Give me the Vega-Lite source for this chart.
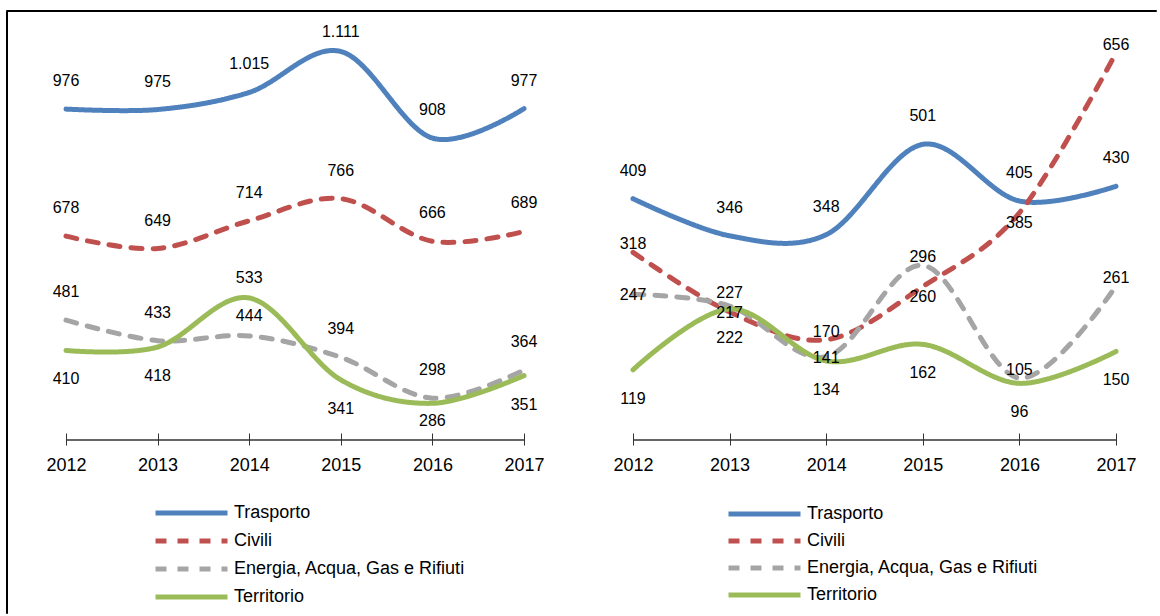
{
  "$schema": "https://vega.github.io/schema/vega-lite/v6.json",
  "background": "white",
  "padding": {"left": 5, "top": 9, "right": 0, "bottom": 0},
  "autosize": {"type": "pad"},
  "config": {
    "view": {"stroke": null},
    "font": "Liberation Sans, Arial, sans-serif",
    "locale": {"number": {"decimal": ",", "thousands": ".", "grouping": [3], "currency": ["€", ""]}},
    "axisX": {
      "domain": false, "grid": false, "title": null,
      "ticks": true, "tickSize": 12, "tickColor": "#333333", "tickWidth": 1,
      "offset": -7, "labelPadding": 11, "labelFontSize": 18, "labelColor": "black",
      "labelFont": "Liberation Sans, Arial, sans-serif"
    },
    "text": {"font": "Liberation Sans, Arial, sans-serif", "fontSize": 16, "color": "black"}
  },
  "datasets": {
    "sinistra": [
      {"anno": 2012, "serie": "Trasporto", "valore": 976},
      {"anno": 2013, "serie": "Trasporto", "valore": 975},
      {"anno": 2014, "serie": "Trasporto", "valore": 1015},
      {"anno": 2015, "serie": "Trasporto", "valore": 1111},
      {"anno": 2016, "serie": "Trasporto", "valore": 908},
      {"anno": 2017, "serie": "Trasporto", "valore": 977},
      {"anno": 2012, "serie": "Civili", "valore": 678},
      {"anno": 2013, "serie": "Civili", "valore": 649},
      {"anno": 2014, "serie": "Civili", "valore": 714},
      {"anno": 2015, "serie": "Civili", "valore": 766},
      {"anno": 2016, "serie": "Civili", "valore": 666},
      {"anno": 2017, "serie": "Civili", "valore": 689},
      {"anno": 2012, "serie": "Energia, Acqua, Gas e Rifiuti", "valore": 481},
      {"anno": 2013, "serie": "Energia, Acqua, Gas e Rifiuti", "valore": 433},
      {"anno": 2014, "serie": "Energia, Acqua, Gas e Rifiuti", "valore": 444},
      {"anno": 2015, "serie": "Energia, Acqua, Gas e Rifiuti", "valore": 394},
      {"anno": 2016, "serie": "Energia, Acqua, Gas e Rifiuti", "valore": 298},
      {"anno": 2017, "serie": "Energia, Acqua, Gas e Rifiuti", "valore": 364},
      {"anno": 2012, "serie": "Territorio", "valore": 410},
      {"anno": 2013, "serie": "Territorio", "valore": 418},
      {"anno": 2014, "serie": "Territorio", "valore": 533},
      {"anno": 2015, "serie": "Territorio", "valore": 341},
      {"anno": 2016, "serie": "Territorio", "valore": 286},
      {"anno": 2017, "serie": "Territorio", "valore": 351}
    ],
    "destra": [
      {"anno": 2012, "serie": "Trasporto", "valore": 409},
      {"anno": 2013, "serie": "Trasporto", "valore": 346},
      {"anno": 2014, "serie": "Trasporto", "valore": 348},
      {"anno": 2015, "serie": "Trasporto", "valore": 501},
      {"anno": 2016, "serie": "Trasporto", "valore": 405},
      {"anno": 2017, "serie": "Trasporto", "valore": 430},
      {"anno": 2012, "serie": "Civili", "valore": 318},
      {"anno": 2013, "serie": "Civili", "valore": 217},
      {"anno": 2014, "serie": "Civili", "valore": 170},
      {"anno": 2015, "serie": "Civili", "valore": 260},
      {"anno": 2016, "serie": "Civili", "valore": 385},
      {"anno": 2017, "serie": "Civili", "valore": 656},
      {"anno": 2012, "serie": "Energia, Acqua, Gas e Rifiuti", "valore": 247},
      {"anno": 2013, "serie": "Energia, Acqua, Gas e Rifiuti", "valore": 227},
      {"anno": 2014, "serie": "Energia, Acqua, Gas e Rifiuti", "valore": 141},
      {"anno": 2015, "serie": "Energia, Acqua, Gas e Rifiuti", "valore": 296},
      {"anno": 2016, "serie": "Energia, Acqua, Gas e Rifiuti", "valore": 105},
      {"anno": 2017, "serie": "Energia, Acqua, Gas e Rifiuti", "valore": 261},
      {"anno": 2012, "serie": "Territorio", "valore": 119},
      {"anno": 2013, "serie": "Territorio", "valore": 222},
      {"anno": 2014, "serie": "Territorio", "valore": 134},
      {"anno": 2015, "serie": "Territorio", "valore": 162},
      {"anno": 2016, "serie": "Territorio", "valore": 96},
      {"anno": 2017, "serie": "Territorio", "valore": 150}
    ]
  },
  "bounds": "flush",
  "spacing": 0,
  "vconcat": [
    {
      "width": 1150, "height": 1,
      "view": {"stroke": "black", "strokeWidth": 1},
      "data": {"values": []},
      "mark": "point",
      "encoding": {}
    },
    {
      "bounds": "flush",
      "spacing": 0,
      "resolve": {
        "scale": {"color": "independent", "strokeDash": "independent"},
        "legend": {"color": "independent", "strokeDash": "independent"}
      },
      "hconcat": [
        {
          "width": 1, "height": 602,
          "view": {"stroke": "black", "strokeWidth": 1},
          "data": {"values": []},
          "mark": "point",
          "encoding": {}
        },
        {
          "width": 579, "height": 429,
          "data": {"name": "sinistra"},
          "layer": [
            {
              "mark": {"type": "rule", "color": "#333333", "strokeWidth": 1.3},
              "encoding": {
                "x": {"aggregate": "min", "field": "anno", "type": "quantitative", "title": null,
                      "scale": {"domain": [2011.3559, 2017.6769], "nice": false, "zero": false}},
                "x2": {"aggregate": "max", "field": "anno"},
                "y": {"datum": 200, "type": "quantitative", "scale": {"domain": [200, 1206], "nice": false, "zero": false}, "axis": null}
              }
            },
            {
              "mark": {"type": "line", "strokeWidth": 5, "interpolate": "cardinal", "strokeCap": "round"},
              "encoding": {
                "x": {"field": "anno", "type": "quantitative", "title": null,
                      "scale": {"domain": [2011.3559, 2017.6769], "nice": false, "zero": false},
                      "axis": {"values": [2012, 2013, 2014, 2015, 2016, 2017], "format": "d"}},
                "y": {"field": "valore", "type": "quantitative", "scale": {"domain": [200, 1206], "nice": false, "zero": false}, "axis": null},
                "color": {"field": "serie", "type": "nominal",
                  "scale": {"domain": ["Trasporto", "Civili", "Energia, Acqua, Gas e Rifiuti", "Territorio"], "range": ["#4F81BD", "#C0504D", "#A5A5A5", "#9BBB59"]},
                  "legend": {"title": null, "orient": "none", "legendX": 146, "legendY": 492, "direction": "vertical", "symbolType": "stroke", "symbolSize": 5184, "symbolStrokeWidth": 5, "clipHeight": 20, "rowPadding": 8, "labelOffset": 4, "labelFontSize": 18, "labelColor": "black", "labelLimit": 400, "padding": 0, "labelFont": "Liberation Sans, Arial, sans-serif"}},
                "strokeDash": {"field": "serie", "type": "nominal",
                  "scale": {"domain": ["Trasporto", "Civili", "Energia, Acqua, Gas e Rifiuti", "Territorio"], "range": [[1, 0], [11, 11], [11, 11], [1, 0]]},
                  "legend": {"title": null, "orient": "none", "legendX": 146, "legendY": 492, "direction": "vertical", "symbolType": "stroke", "symbolSize": 5184, "symbolStrokeWidth": 5, "clipHeight": 20, "rowPadding": 8, "labelOffset": 4, "labelFontSize": 18, "labelColor": "black", "labelLimit": 400, "padding": 0, "labelFont": "Liberation Sans, Arial, sans-serif"}}
              }
            },
            {
              "transform": [{"filter": "(datum.serie != 'Territorio' && !(datum.anno == 2014 && datum.serie == 'Energia, Acqua, Gas e Rifiuti') && !(datum.anno == 2015 && datum.serie == 'Trasporto'))"}],
              "mark": {"type": "text", "dy": -28, "align": "center", "baseline": "middle"},
              "encoding": {
                "x": {"field": "anno", "type": "quantitative", "title": null, "scale": {"domain": [2011.3559, 2017.6769], "nice": false, "zero": false}},
                "y": {"field": "valore", "type": "quantitative", "scale": {"domain": [200, 1206], "nice": false, "zero": false}, "axis": null},
                "text": {"field": "valore", "type": "quantitative", "format": ",d"}
              }
            },
            {
              "transform": [{"filter": "datum.anno == 2014 && (datum.serie == 'Territorio' || datum.serie == 'Energia, Acqua, Gas e Rifiuti') || (datum.anno == 2015 && datum.serie == 'Trasporto')"}],
              "mark": {"type": "text", "dy": -20, "align": "center", "baseline": "middle"},
              "encoding": {
                "x": {"field": "anno", "type": "quantitative", "title": null, "scale": {"domain": [2011.3559, 2017.6769], "nice": false, "zero": false}},
                "y": {"field": "valore", "type": "quantitative", "scale": {"domain": [200, 1206], "nice": false, "zero": false}, "axis": null},
                "text": {"field": "valore", "type": "quantitative", "format": ",d"}
              }
            },
            {
              "transform": [{"filter": "datum.serie == 'Territorio' && datum.anno != 2014 && datum.anno != 2016"}],
              "mark": {"type": "text", "dy": 29, "align": "center", "baseline": "middle"},
              "encoding": {
                "x": {"field": "anno", "type": "quantitative", "title": null, "scale": {"domain": [2011.3559, 2017.6769], "nice": false, "zero": false}},
                "y": {"field": "valore", "type": "quantitative", "scale": {"domain": [200, 1206], "nice": false, "zero": false}, "axis": null},
                "text": {"field": "valore", "type": "quantitative", "format": ",d"}
              }
            },
            {
              "transform": [{"filter": "datum.serie == 'Territorio' && datum.anno == 2016"}],
              "mark": {"type": "text", "dy": 18, "align": "center", "baseline": "middle"},
              "encoding": {
                "x": {"field": "anno", "type": "quantitative", "title": null, "scale": {"domain": [2011.3559, 2017.6769], "nice": false, "zero": false}},
                "y": {"field": "valore", "type": "quantitative", "scale": {"domain": [200, 1206], "nice": false, "zero": false}, "axis": null},
                "text": {"field": "valore", "type": "quantitative", "format": ",d"}
              }
            }
          ]
        },
        {
          "width": 570, "height": 429,
          "data": {"name": "destra"},
          "layer": [
            {
              "mark": {"type": "rule", "color": "#333333", "strokeWidth": 1.3},
              "encoding": {
                "x": {"aggregate": "min", "field": "anno", "type": "quantitative", "title": null,
                      "scale": {"domain": [2011.5135, 2017.4141], "nice": false, "zero": false}},
                "x2": {"aggregate": "max", "field": "anno"},
                "y": {"datum": 0, "type": "quantitative", "scale": {"domain": [0, 727], "nice": false, "zero": false}, "axis": null}
              }
            },
            {
              "mark": {"type": "line", "strokeWidth": 5, "interpolate": "cardinal", "strokeCap": "round"},
              "encoding": {
                "x": {"field": "anno", "type": "quantitative", "title": null,
                      "scale": {"domain": [2011.5135, 2017.4141], "nice": false, "zero": false},
                      "axis": {"values": [2012, 2013, 2014, 2015, 2016, 2017], "format": "d"}},
                "y": {"field": "valore", "type": "quantitative", "scale": {"domain": [0, 727], "nice": false, "zero": false}, "axis": null},
                "color": {"field": "serie", "type": "nominal",
                  "scale": {"domain": ["Trasporto", "Civili", "Energia, Acqua, Gas e Rifiuti", "Territorio"], "range": ["#4F81BD", "#C0504D", "#A5A5A5", "#9BBB59"]},
                  "legend": {"title": null, "orient": "none", "legendX": 140, "legendY": 493, "direction": "vertical", "symbolType": "stroke", "symbolSize": 5184, "symbolStrokeWidth": 5, "clipHeight": 20, "rowPadding": 7, "labelOffset": 4, "labelFontSize": 18, "labelColor": "black", "labelLimit": 400, "padding": 0, "labelFont": "Liberation Sans, Arial, sans-serif"}},
                "strokeDash": {"field": "serie", "type": "nominal",
                  "scale": {"domain": ["Trasporto", "Civili", "Energia, Acqua, Gas e Rifiuti", "Territorio"], "range": [[1, 0], [11, 11], [11, 11], [1, 0]]},
                  "legend": {"title": null, "orient": "none", "legendX": 140, "legendY": 493, "direction": "vertical", "symbolType": "stroke", "symbolSize": 5184, "symbolStrokeWidth": 5, "clipHeight": 20, "rowPadding": 7, "labelOffset": 4, "labelFontSize": 18, "labelColor": "black", "labelLimit": 400, "padding": 0, "labelFont": "Liberation Sans, Arial, sans-serif"}}
              }
            },
            {
              "transform": [{"filter": "datum.serie == 'Trasporto'"}],
              "mark": {"type": "text", "dy": -28, "align": "center", "baseline": "middle"},
              "encoding": {
                "x": {"field": "anno", "type": "quantitative", "title": null, "scale": {"domain": [2011.5135, 2017.4141], "nice": false, "zero": false}},
                "y": {"field": "valore", "type": "quantitative", "scale": {"domain": [0, 727], "nice": false, "zero": false}, "axis": null},
                "text": {"field": "valore", "type": "quantitative", "format": ",d"}
              }
            },
            {
              "transform": [{"filter": "(datum.serie == 'Civili' && (datum.anno == 2012 || datum.anno == 2014 || datum.anno == 2017)) || (datum.serie == 'Energia, Acqua, Gas e Rifiuti' && (datum.anno == 2015 || datum.anno == 2016 || datum.anno == 2017))"}],
              "mark": {"type": "text", "dy": -8, "align": "center", "baseline": "middle"},
              "encoding": {
                "x": {"field": "anno", "type": "quantitative", "title": null, "scale": {"domain": [2011.5135, 2017.4141], "nice": false, "zero": false}},
                "y": {"field": "valore", "type": "quantitative", "scale": {"domain": [0, 727], "nice": false, "zero": false}, "axis": null},
                "text": {"field": "valore", "type": "quantitative", "format": ",d"}
              }
            },
            {
              "transform": [{"filter": "(datum.serie == 'Civili' && datum.anno == 2013) || (datum.serie == 'Energia, Acqua, Gas e Rifiuti' && (datum.anno == 2012 || datum.anno == 2014))"}],
              "mark": {"type": "text", "dy": 1, "align": "center", "baseline": "middle"},
              "encoding": {
                "x": {"field": "anno", "type": "quantitative", "title": null, "scale": {"domain": [2011.5135, 2017.4141], "nice": false, "zero": false}},
                "y": {"field": "valore", "type": "quantitative", "scale": {"domain": [0, 727], "nice": false, "zero": false}, "axis": null},
                "text": {"field": "valore", "type": "quantitative", "format": ",d"}
              }
            },
            {
              "transform": [{"filter": "datum.serie == 'Civili' && (datum.anno == 2015 || datum.anno == 2016)"}],
              "mark": {"type": "text", "dy": 10, "align": "center", "baseline": "middle"},
              "encoding": {
                "x": {"field": "anno", "type": "quantitative", "title": null, "scale": {"domain": [2011.5135, 2017.4141], "nice": false, "zero": false}},
                "y": {"field": "valore", "type": "quantitative", "scale": {"domain": [0, 727], "nice": false, "zero": false}, "axis": null},
                "text": {"field": "valore", "type": "quantitative", "format": ",d"}
              }
            },
            {
              "transform": [{"filter": "datum.serie == 'Energia, Acqua, Gas e Rifiuti' && datum.anno == 2013"}],
              "mark": {"type": "text", "dy": -13, "align": "center", "baseline": "middle"},
              "encoding": {
                "x": {"field": "anno", "type": "quantitative", "title": null, "scale": {"domain": [2011.5135, 2017.4141], "nice": false, "zero": false}},
                "y": {"field": "valore", "type": "quantitative", "scale": {"domain": [0, 727], "nice": false, "zero": false}, "axis": null},
                "text": {"field": "valore", "type": "quantitative", "format": ",d"}
              }
            },
            {
              "transform": [{"filter": "datum.serie == 'Territorio'"}],
              "mark": {"type": "text", "dy": 29, "align": "center", "baseline": "middle"},
              "encoding": {
                "x": {"field": "anno", "type": "quantitative", "title": null, "scale": {"domain": [2011.5135, 2017.4141], "nice": false, "zero": false}},
                "y": {"field": "valore", "type": "quantitative", "scale": {"domain": [0, 727], "nice": false, "zero": false}, "axis": null},
                "text": {"field": "valore", "type": "quantitative", "format": ",d"}
              }
            }
          ]
        }
      ]
    }
  ]
}
